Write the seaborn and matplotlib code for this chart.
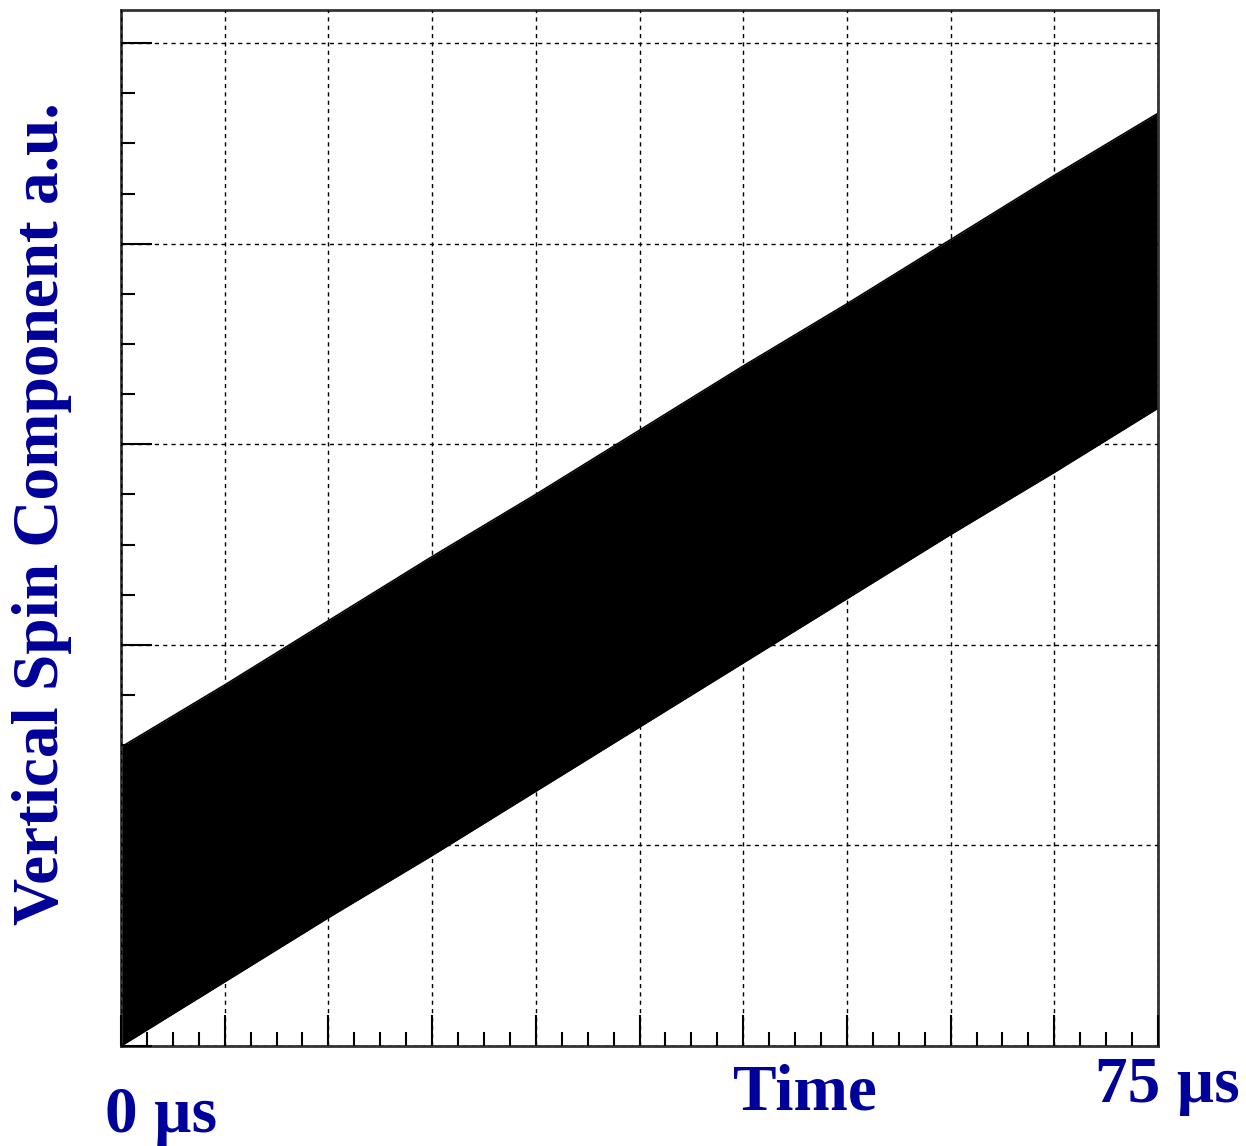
import numpy as np
import pandas as pd
import matplotlib
matplotlib.use("Agg")
import matplotlib.pyplot as plt
import seaborn as sns
from matplotlib.ticker import MultipleLocator

# Envelope of the rapidly oscillating vertical spin component
time_us = [0, 7.5, 15, 22.5, 30, 37.5, 45, 52.5, 60, 67.5, 75]
lower_env = [0.00, 0.32, 0.64, 0.95, 1.27, 1.59, 1.91, 2.23, 2.55, 2.86, 3.18]
upper_env = [1.49, 1.80, 2.12, 2.44, 2.75, 3.07, 3.39, 3.70, 4.02, 4.34, 4.65]

x_labels = ["0 µs", "75 µs"]
x_title = "Time"
y_title = "Vertical Spin Component a.u."

df = pd.DataFrame({"t": time_us, "lo": lower_env, "hi": upper_env})

sns.set_theme(style="white")
plt.rcParams["font.family"] = ["Liberation Serif", "DejaVu Serif"]

fig = plt.figure(figsize=(12.46, 11.46), dpi=100)
ax = fig.add_axes([121/1246, 1 - 1046/1146, (1158-121)/1246, (1046-10)/1146])

ax.fill_between(df["t"], df["lo"], df["hi"], color="black", linewidth=0)
sns.lineplot(data=df, x="t", y="lo", ax=ax, color="black", linewidth=1.2)
sns.lineplot(data=df, x="t", y="hi", ax=ax, color="black", linewidth=1.2)

ax.set_xlim(0, 75)
ax.set_ylim(0, 5.165)
ax.xaxis.set_major_locator(MultipleLocator(7.5))
ax.xaxis.set_minor_locator(MultipleLocator(7.5/4))
ax.yaxis.set_major_locator(MultipleLocator(1))
ax.yaxis.set_minor_locator(MultipleLocator(0.25))
ax.tick_params(axis="both", which="major", direction="in", length=22, width=1.5,
               color="black", labelbottom=False, labelleft=False,
               bottom=True, left=True, top=False, right=False)
ax.tick_params(axis="both", which="minor", direction="in", length=10, width=1.5,
               color="black", bottom=True, left=True, top=False, right=False)
ax.grid(True, which="major", color="black", linestyle=(0, (3, 3)), linewidth=1.0)
ax.set_axisbelow(False)
for s in ax.spines.values():
    s.set_color("#333333")
    s.set_linewidth(2)
ax.set_xlabel("")
ax.set_ylabel("")

blue = "#00009A"
fs = 47
fig.text(105/1246, 1 - 1132/1146, x_labels[0], color=blue, fontsize=fs, fontweight="bold",
         ha="left", va="baseline")
fig.text(1240/1246, 1 - 1102/1146, x_labels[1], color=blue, fontsize=fs, fontweight="bold",
         ha="right", va="baseline")
fig.text(877/1246, 1 - 1110/1146, x_title, color=blue, fontsize=fs, fontweight="bold",
         ha="right", va="baseline")
fig.text(42/1246, 1 - 514/1146, y_title, color=blue, fontsize=fs, fontweight="bold",
         ha="center", va="center", rotation=90)

fig.savefig("out.png", dpi=100, facecolor="white")
